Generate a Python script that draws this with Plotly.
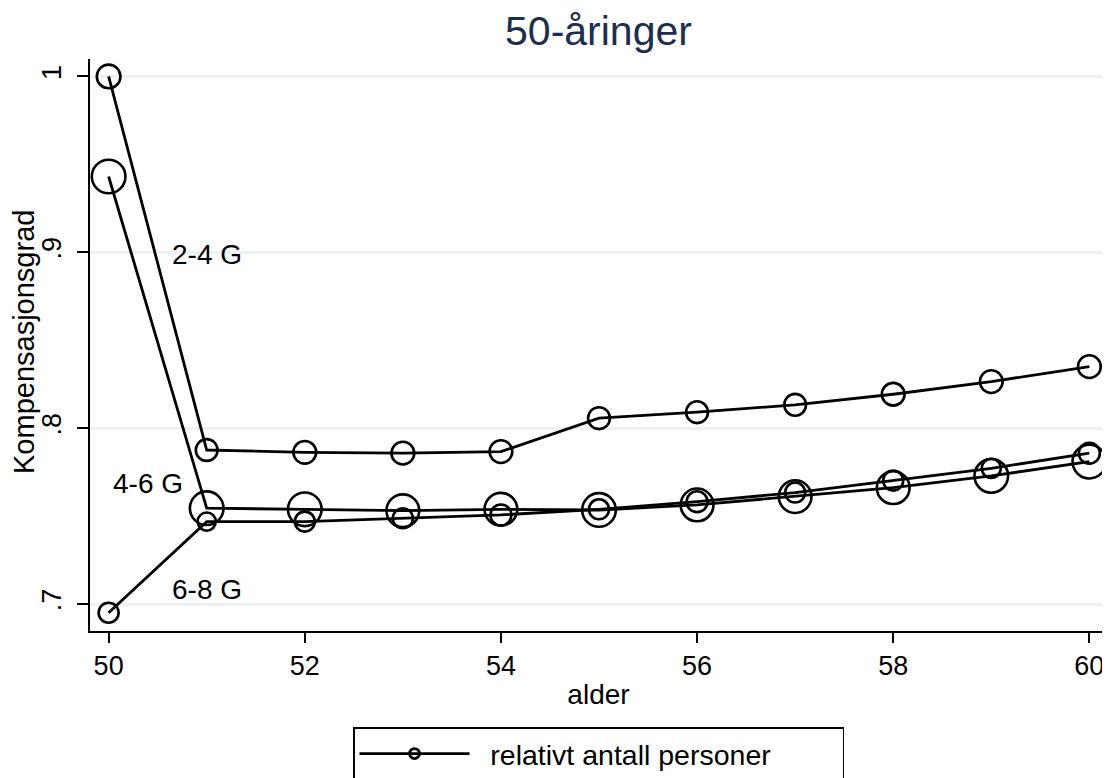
import plotly.graph_objects as go

# ---- data ----
alder = [50, 51, 52, 53, 54, 55, 56, 57, 58, 59, 60]
komp_2_4 = [1.000, 0.7876, 0.7863, 0.7858, 0.7867, 0.8057, 0.8091, 0.8133, 0.8193, 0.8265, 0.8350]
komp_4_6 = [0.9431, 0.7545, 0.7539, 0.7531, 0.7539, 0.7535, 0.7564, 0.7611, 0.7662, 0.7729, 0.7810]
komp_6_8 = [0.6951, 0.7469, 0.7469, 0.7488, 0.7507, 0.7539, 0.7582, 0.7634, 0.7702, 0.7772, 0.7858]
# relative number of persons (drives marker size)
rel_2_4 = [26, 24, 25, 25, 25, 24, 24, 24, 25, 25, 25]
rel_4_6 = [37, 37, 37, 36, 36, 37, 36, 36, 36, 37, 37]
rel_6_8 = [22, 20, 22, 22, 23, 22, 23, 22, 22, 21, 23]

group_labels = ["2-4 G", "4-6 G", "6-8 G"]
label_x = [51.0, 50.4, 51.0]
label_y = [0.899, 0.7687, 0.7084]

x_ticks = [50, 52, 54, 56, 58, 60]
y_ticks = [0.7, 0.8, 0.9, 1.0]
y_ticktext = [".7", ".8", ".9", "1"]

FONT = "Liberation Sans, Arial, sans-serif"

# the page body has an 8px default margin: the figure is sized to fit
W, H = 1102, 770

fig = go.Figure()
for ys, rel in [(komp_2_4, rel_2_4), (komp_4_6, rel_4_6), (komp_6_8, rel_6_8)]:
    fig.add_trace(go.Scatter(
        x=alder, y=ys, mode="lines+markers",
        line=dict(color="black", width=2.8),
        marker=dict(symbol="circle-open", size=rel, sizemode="diameter", sizeref=1.1,
                    color="black", opacity=1, line=dict(color="black", width=2.6)),
        showlegend=False, cliponaxis=False,
    ))

# legend entry
fig.add_trace(go.Scatter(
    x=[None], y=[None], mode="lines+markers",
    name="\u00a0\u00a0relativt antall personer",
    line=dict(color="black", width=2.8),
    marker=dict(symbol="circle-open", size=10, color="black", line=dict(color="black", width=2.8)),
    showlegend=True,
))

for txt, lx, ly in zip(group_labels, label_x, label_y):
    fig.add_annotation(x=lx, y=ly, text=txt, showarrow=False,
                       font=dict(family=FONT, size=28, color="black"))

# y-axis title as a rotated annotation for exact placement
fig.add_annotation(x=0, xref="paper", xanchor="center", xshift=-66,
                   y=0.5, yref="paper", yanchor="middle", yshift=3,
                   text="Kompensasjonsgrad", textangle=-90, showarrow=False,
                   font=dict(family=FONT, size=29, color="black"))

fig.update_layout(
    width=W, height=H,
    margin=dict(l=82, r=3, t=51, b=147),
    paper_bgcolor="white", plot_bgcolor="white",
    font=dict(family=FONT, size=27, color="black"),
    title=dict(text="50-åringer", x=(82 + 1099) / 2 / W, xanchor="center", y=1 - 23 / H, yanchor="middle",
               font=dict(family=FONT, size=41, color="#1c2d4f")),
    xaxis=dict(range=[49.81, 60.18], tickvals=x_ticks, showgrid=False, zeroline=False,
               showline=True, linecolor="black", linewidth=2,
               ticks="outside", ticklen=10, tickwidth=2, tickcolor="black",
               tickfont=dict(family=FONT, size=27, color="black"),
               title=dict(text="alder", font=dict(family=FONT, size=28, color="black"), standoff=4)),
    yaxis=dict(range=[0.6847, 1.0099], tickvals=y_ticks, ticktext=y_ticktext, tickangle=-90,
               showgrid=True, gridcolor="#ecf1f7", gridwidth=2.5, zeroline=False,
               showline=True, linecolor="black", linewidth=2,
               ticks="outside", ticklen=11, tickwidth=2, tickcolor="black",
               ticklabelstandoff=5,
               tickfont=dict(family=FONT, size=27, color="black")),
    legend=dict(orientation="h", x=0.5, xanchor="center", xref="paper",
                y=1 - 719 / H, yanchor="top", yref="container",
                bordercolor="black", borderwidth=1.5, bgcolor="white",
                itemwidth=110, entrywidth=363, entrywidthmode="pixels",
                font=dict(family=FONT, size=28.5, color="black")),
)

fig.write_html("out.html")
